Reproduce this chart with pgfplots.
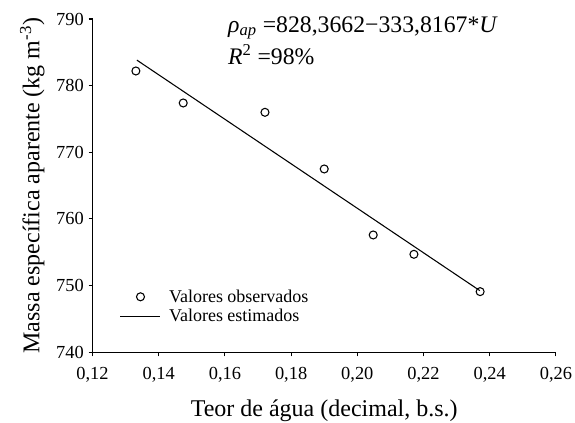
\documentclass[border=0pt]{standalone}
\usepackage{fontspec}
\setmainfont{Liberation Serif}
\usepackage{pgfplots}
\pgfplotsset{compat=1.18}
\begin{document}
\begin{tikzpicture}
\path[use as bounding box] (-69.4pt,-53pt) rectangle (361.9pt,264.25pt);
\begin{axis}[
  at={(0pt,0pt)}, anchor=south west,
  scale only axis, width=347.6pt, height=250pt,
  xmin=0.12, xmax=0.26, ymin=740, ymax=790,
  axis x line*=bottom, axis y line*=left,
  axis line style={line width=0.8pt},
  tick align=outside, major tick length=3pt,
  tick style={line width=0.8pt, black},
  xtick={0.12,0.14,...,0.26}, ytick={740,750,...,790},
  /pgf/number format/assume math mode=true,
  xticklabel style={yshift=-5pt, /pgf/number format/.cd, use comma, fixed, fixed zerofill, precision=2},
  yticklabel style={/pgf/number format/.cd, fixed, precision=0},
  ticklabel style={font=\fontsize{13.8pt}{15pt}\selectfont},
  xlabel={Teor de água (decimal, b.s.)},
  ylabel={Massa específica aparente (kg m\textsuperscript{-3})},
  xlabel style={at={(axis description cs:0.5,-0.174)}, anchor=center, font=\fontsize{18pt}{21pt}\selectfont},
  ylabel style={at={(axis description cs:-0.13,0.5)}, anchor=center, font=\fontsize{18pt}{21pt}\selectfont},
  clip=false,
  legend style={at={(axis description cs:0.05,0.205)}, anchor=north west, draw=none, fill=none,
    font=\fontsize{13.5pt}{16pt}\selectfont, row sep=0pt,
    nodes={inner xsep=6pt}},
  legend cell align=left,
  legend image code/.code={\draw[mark repeat=2,mark phase=2,#1] plot coordinates {(0pt,0pt) (15pt,0pt) (30pt,0pt)};},
]
\addplot[only marks, mark=o, mark size=3pt, mark options={line width=0.8pt, fill=white}, black]
coordinates {(0.1331,782.2) (0.1474,777.4) (0.1721,776.0) (0.1900,767.5) (0.2048,757.6) (0.2171,754.7) (0.2371,749.1)};
\addlegendentry{Valores observados}
\addplot[black, line width=0.8pt] coordinates {(0.1334,783.83) (0.2370,749.25)};
\addlegendentry{Valores estimados}
\node[anchor=base west, font=\fontsize{17.8pt}{20pt}\selectfont, inner sep=0pt] at (axis cs:0.1609,788.0)
  {\textit{ρ}\textsubscript{\textit{ap}} =828,3662−333,8167*\textit{U}};
\node[anchor=base west, font=\fontsize{17.8pt}{20pt}\selectfont, inner sep=0pt] at (axis cs:0.1609,783.2)
  {\textit{R}\textsuperscript{2} =98\%};
\end{axis}
\end{tikzpicture}
\end{document}
